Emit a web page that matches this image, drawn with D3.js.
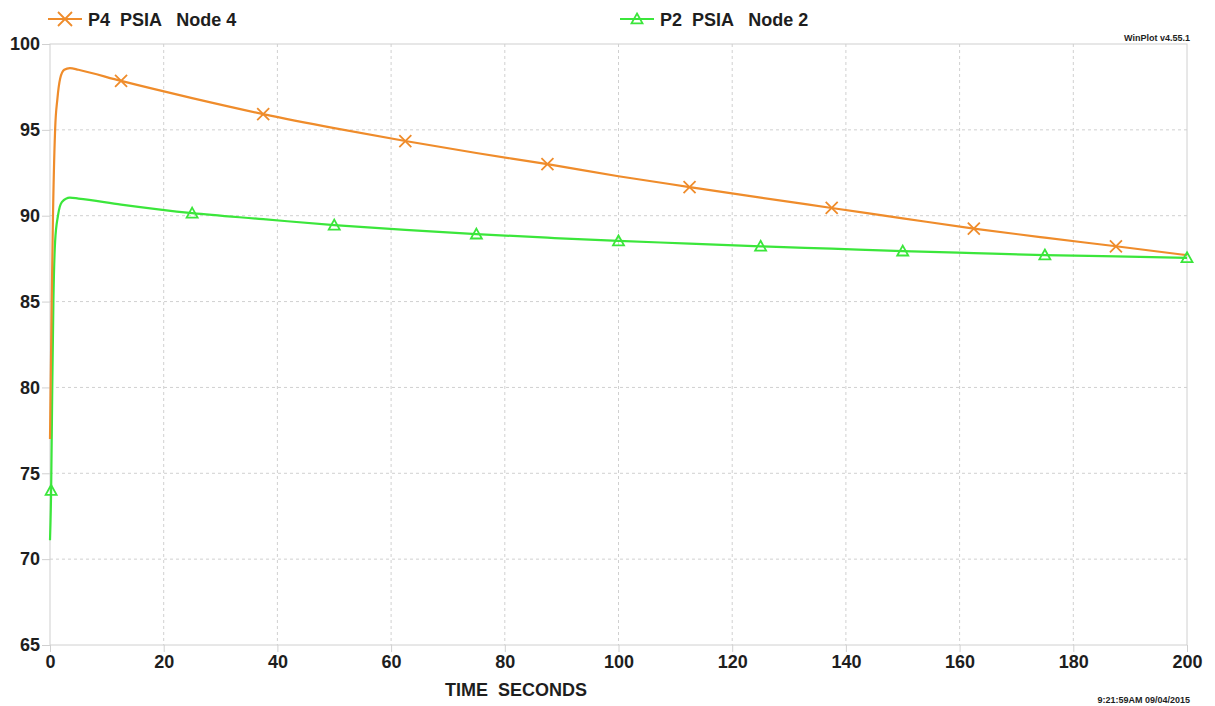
<!DOCTYPE html>
<html lang="en">
<head>
<meta charset="UTF-8">
<title>WinPlot</title>
<script src="https://cdn.jsdelivr.net/npm/d3@7"></script>
<style>
  body { margin: 0; background: #fff; }
  text { font-family: "Liberation Sans", Arial, sans-serif; font-weight: bold; fill: #1e1e1e; }
</style>
</head>
<body>
<script>
// values
var seriesNames = ['P4  PSIA   Node 4', 'P2  PSIA   Node 2'];
var xTicks = [0, 20, 40, 60, 80, 100, 120, 140, 160, 180, 200];
var yTicks = [65, 70, 75, 80, 85, 90, 95, 100];

var p4Time = [0, 0.3, 0.5, 0.9, 1.3, 1.8, 2.5, 3.5, 5, 12.5, 25, 37.5, 50, 62.5, 75, 87.5, 100, 112.5, 125, 137.5, 150, 162.5, 175, 187.5, 200];
var p4Value = [77, 85, 89.5, 95, 96.8, 98.0, 98.5, 98.6, 98.5, 97.85, 96.85, 95.92, 95.1, 94.35, 93.65, 93.0, 92.3, 91.67, 91.05, 90.45, 89.85, 89.25, 88.72, 88.22, 87.7];
var p4MarkerTime = [12.5, 37.5, 62.5, 87.5, 112.5, 137.5, 162.5, 187.5];

var p2Time = [0, 0.2, 0.4, 0.6, 0.9, 1.4, 2.1, 3.5, 5, 12.5, 25, 37.5, 50, 62.5, 75, 87.5, 100, 112.5, 125, 137.5, 150, 162.5, 175, 187.5, 200];
var p2Value = [71.1, 74, 80, 85, 88.5, 90.0, 90.8, 91.05, 91.0, 90.65, 90.15, 89.8, 89.45, 89.17, 88.93, 88.72, 88.53, 88.38, 88.22, 88.08, 87.94, 87.82, 87.71, 87.63, 87.55];
var p2MarkerTime = [0.2, 25, 50, 75, 100, 125, 150, 175, 200];

var width = 1215, height = 706;
var margins = { top: 44, left: 50, right: 28, bottom: 61 };
var orange = '#ef8c2b', green = '#3be63b', gridColor = '#d0d0d0';

var svg = d3.select('body').append('svg')
  .attr('width', width)
  .attr('height', height);

var x = d3.scaleLinear().domain([0, 200]).range([margins.left, width - margins.right]);
var y = d3.scaleLinear().domain([65, 100]).range([height - margins.bottom, margins.top]);

function zip(t, v) {
  return t.map(function (d, i) { return { t: d, v: v[i] }; });
}
var p4 = zip(p4Time, p4Value);
var p2 = zip(p2Time, p2Value);

// grid
svg.append('g').selectAll('line.vgrid')
  .data(xTicks.slice(1, -1))
  .enter().append('line')
  .attr('x1', function (d) { return x(d); })
  .attr('x2', function (d) { return x(d); })
  .attr('y1', y(100)).attr('y2', y(65))
  .attr('stroke', gridColor).attr('stroke-dasharray', '3,3');
svg.append('g').selectAll('line.hgrid')
  .data(yTicks.slice(1, -1))
  .enter().append('line')
  .attr('x1', x(0)).attr('x2', x(200))
  .attr('y1', function (d) { return y(d); })
  .attr('y2', function (d) { return y(d); })
  .attr('stroke', gridColor).attr('stroke-dasharray', '3,3');

// frame
svg.append('rect')
  .attr('x', x(0)).attr('y', y(100))
  .attr('width', x(200) - x(0)).attr('height', y(65) - y(100))
  .attr('fill', 'none').attr('stroke', gridColor);

// axes
var xAxis = d3.axisBottom(x).tickValues(xTicks).tickSize(7).tickPadding(3).tickFormat(d3.format('d'));
var yAxis = d3.axisLeft(y).tickValues(yTicks).tickSize(8).tickPadding(2).tickFormat(d3.format('d'));

var gx = svg.append('g').attr('transform', 'translate(0,' + y(65) + ')').call(xAxis);
var gy = svg.append('g').attr('transform', 'translate(' + x(0) + ',0)').call(yAxis);
[gx, gy].forEach(function (g) {
  g.select('.domain').remove();
  g.selectAll('line').attr('stroke', gridColor);
  g.selectAll('text').style('font-size', '18px').attr('fill', '#1e1e1e');
});

svg.append('text')
  .attr('x', 516).attr('y', 696)
  .attr('text-anchor', 'middle')
  .style('font-size', '18px')
  .style('white-space', 'pre')
  .text('TIME  SECONDS');

// lines
var line = d3.line()
  .x(function (d) { return x(d.t); })
  .y(function (d) { return y(d.v); })
  .curve(d3.curveMonotoneX);

svg.append('path').datum(p2)
  .attr('d', line).attr('fill', 'none')
  .attr('stroke', green).attr('stroke-width', 2.2);
svg.append('path').datum(p4)
  .attr('d', line).attr('fill', 'none')
  .attr('stroke', orange).attr('stroke-width', 2.2);

function valueAt(series, t) {
  var i = d3.bisector(function (d) { return d.t; }).left(series, t);
  if (i <= 0) return series[0].v;
  if (i >= series.length) return series[series.length - 1].v;
  var a = series[i - 1], b = series[i];
  return a.v + (b.v - a.v) * (t - a.t) / (b.t - a.t);
}

function crossPath(s) {
  return 'M' + -s + ',' + -s + 'L' + s + ',' + s + 'M' + -s + ',' + s + 'L' + s + ',' + -s;
}
function trianglePath(s) {
  return 'M0,' + (-s) + 'L' + s + ',' + (s * 0.8) + 'L' + (-s) + ',' + (s * 0.8) + 'Z';
}

svg.append('g').selectAll('path')
  .data(p4MarkerTime)
  .enter().append('path')
  .attr('transform', function (d) { return 'translate(' + x(d) + ',' + y(valueAt(p4, d)) + ')'; })
  .attr('d', crossPath(6))
  .attr('fill', 'none').attr('stroke', orange).attr('stroke-width', 1.8);

svg.append('g').selectAll('path')
  .data(p2MarkerTime)
  .enter().append('path')
  .attr('transform', function (d) { return 'translate(' + x(d) + ',' + y(valueAt(p2, d)) + ')'; })
  .attr('d', trianglePath(5.5))
  .attr('fill', 'none').attr('stroke', green).attr('stroke-width', 1.8);

// legend
var legend = [
  { name: seriesNames[0], color: orange, x: 48, marker: crossPath(7) },
  { name: seriesNames[1], color: green, x: 620, marker: trianglePath(5.5) }
];
var lg = svg.append('g').selectAll('g')
  .data(legend)
  .enter().append('g')
  .attr('transform', function (d) { return 'translate(' + d.x + ',19)'; });
lg.append('line')
  .attr('x1', 0).attr('x2', 34).attr('y1', 0).attr('y2', 0)
  .attr('stroke', function (d) { return d.color; }).attr('stroke-width', 2.2);
lg.append('path')
  .attr('transform', 'translate(17,0)')
  .attr('d', function (d) { return d.marker; })
  .attr('fill', 'none')
  .attr('stroke', function (d) { return d.color; }).attr('stroke-width', 1.8);
lg.append('text')
  .attr('x', 40).attr('y', 6.5)
  .style('font-size', '18px')
  .style('white-space', 'pre')
  .text(function (d) { return d.name; });

svg.append('text')
  .attr('x', 1190).attr('y', 41)
  .attr('text-anchor', 'end')
  .style('font-size', '9px')
  .text('WinPlot v4.55.1');

svg.append('text')
  .attr('x', 1190).attr('y', 703)
  .attr('text-anchor', 'end')
  .style('font-size', '9px')
  .text('9:21:59AM 09/04/2015');
</script>
</body>
</html>
